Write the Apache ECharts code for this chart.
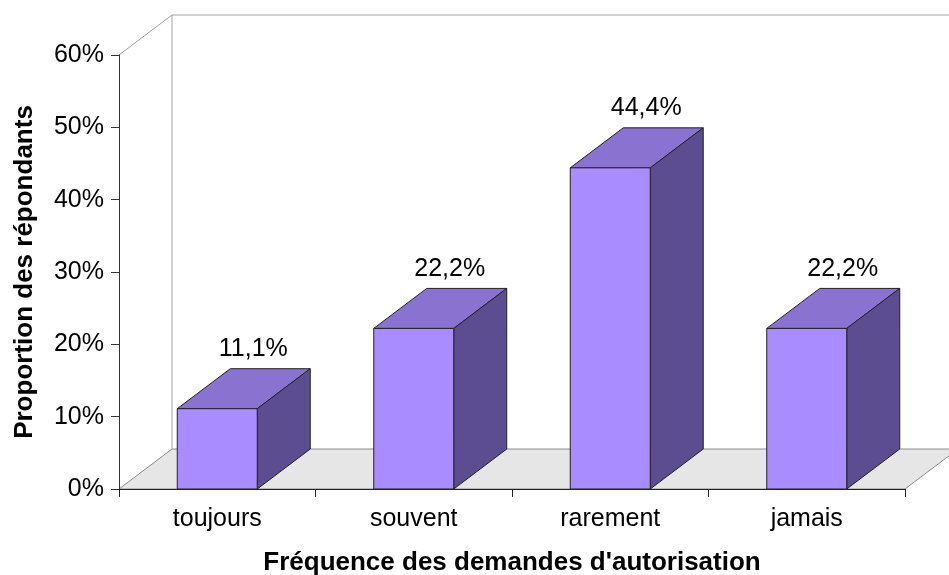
<!DOCTYPE html>
<html>
<head>
<meta charset="utf-8">
<title>Fréquence des demandes d'autorisation</title>
<script src="https://cdn.jsdelivr.net/npm/echarts@6/dist/echarts.min.js"></script>
<style>
	* {
		margin: 0;
		padding: 0;
	}
	html, body {
		background: #fff;
	}
	#main {
		width: 949px;
		height: 575px;
	}
</style>
</head>
<body>
	<div id="main"></div>

	<script type="text/javascript">
		// data
		var categories = ['toujours', 'souvent', 'rarement', 'jamais'];
		var proportions = [0.111, 0.222, 0.444, 0.222];
		var valueLabels = ['11,1%', '22,2%', '44,4%', '22,2%'];
		var yTickLabels = ['0%', '10%', '20%', '30%', '40%', '50%', '60%'];

		// 3D look : depth offset of the floor / bars
		var DX = 53;
		var DY = 40;
		var BAR_RATIO = 0.407;
		var FONT = "'Liberation Sans', Arial, sans-serif";

		var myChart = echarts.init(document.getElementById('main'));

		// floor + back wall, built from the grid rect
		function renderBack(params, api)
		{
			var cs = params.coordSys;
			var x0 = cs.x, y0 = cs.y, w = cs.width, h = cs.height;
			var yb = y0 + h;
			return {
				type: 'group',
				children: [
					{
						type: 'polygon',
						shape: { points: [[x0, yb], [x0 + w, yb], [x0 + w + DX, yb - DY], [x0 + DX, yb - DY]] },
						style: { fill: '#e6e6e6', stroke: '#8c8c8c', lineWidth: 1 }
					},
					{
						type: 'polyline',
						shape: { points: [[x0, y0], [x0 + DX, y0 - DY], [x0 + DX + w + 60, y0 - DY]] },
						style: { fill: null, stroke: '#a0a0a0', lineWidth: 1 }
					},
					{
						type: 'line',
						shape: { x1: x0 + DX, y1: y0 - DY, x2: x0 + DX, y2: yb - DY },
						style: { stroke: '#a0a0a0', lineWidth: 1 }
					}
				]
			};
		}

		function renderBar(params, api)
		{
			var idx = api.value(0);
			var top = api.coord([idx, api.value(1)]);
			var base = api.coord([idx, 0]);
			var half = api.size([1, 0])[0] * BAR_RATIO / 2;
			var l = top[0] - half, r = top[0] + half, t = top[1], b = base[1];
			var edge = { stroke: '#222', lineWidth: 1 };
			return {
				type: 'group',
				children: [
					{
						type: 'polygon',
						shape: { points: [[l, t], [r, t], [r + DX, t - DY], [l + DX, t - DY]] },
						style: Object.assign({ fill: '#8a72d0' }, edge)
					},
					{
						type: 'polygon',
						shape: { points: [[r, t], [r + DX, t - DY], [r + DX, b - DY], [r, b]] },
						style: Object.assign({ fill: '#5c4d90' }, edge)
					},
					{
						type: 'rect',
						shape: { x: l, y: t, width: r - l, height: b - t },
						style: Object.assign({ fill: '#a98cff' }, edge)
					},
					{
						type: 'text',
						x: top[0] + 36,
						y: t - DY - 7,
						style: {
							text: valueLabels[idx],
							fill: '#000',
							font: '25px ' + FONT,
							align: 'center',
							verticalAlign: 'bottom'
						}
					}
				]
			};
		}

		var barData = [];
		for (var i = 0; i < categories.length; i++)
		{
			barData.push([i, proportions[i]]);
		}

		var option = {
			animation: false,
			grid: {
				left: 119,
				top: 55,
				width: 786,
				height: 434,
				outerBoundsMode: 'none'
			},
			xAxis: {
				type: 'category',
				data: categories,
				z: 5,
				axisLine: { show: true, lineStyle: { color: '#222', width: 1 } },
				axisTick: { show: true, length: 8, lineStyle: { color: '#222' } },
				axisLabel: {
					margin: 18,
					color: '#000',
					fontSize: 25,
					fontFamily: FONT
				},
				name: "Fréquence des demandes d'autorisation",
				nameLocation: 'middle',
				nameGap: 61,
				nameTextStyle: {
					color: '#000',
					fontSize: 26,
					fontWeight: 'bold',
					fontFamily: FONT
				}
			},
			yAxis: {
				type: 'value',
				min: 0,
				max: 0.6,
				interval: 0.1,
				z: 5,
				splitLine: { show: false },
				axisLine: { show: true, lineStyle: { color: '#333', width: 1 } },
				axisTick: { show: true, length: 8, lineStyle: { color: '#333' } },
				axisLabel: {
					margin: 15,
					color: '#000',
					fontSize: 25,
					fontFamily: FONT,
					formatter: function (value) {
						return yTickLabels[Math.round(value * 10)];
					}
				},
				name: 'Proportion des répondants',
				nameLocation: 'middle',
				nameGap: 81,
				nameTextStyle: {
					color: '#000',
					fontSize: 26,
					fontWeight: 'bold',
					fontFamily: FONT
				}
			},
			series: [
				{
					type: 'custom',
					z: 1,
					silent: true,
					renderItem: renderBack,
					data: [[0, 0]]
				},
				{
					type: 'custom',
					z: 2,
					renderItem: renderBar,
					data: barData
				}
			]
		};

		myChart.setOption(option);
	</script>
</body>
</html>
